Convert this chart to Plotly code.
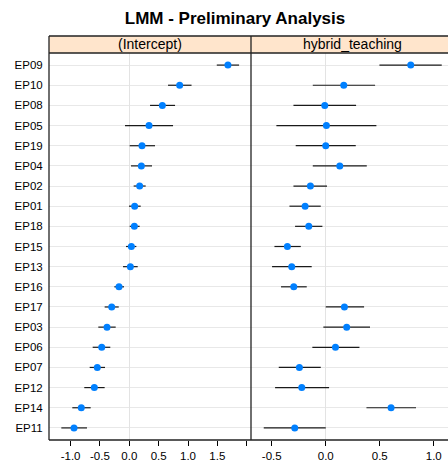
import plotly.graph_objects as go

# Data (top to bottom as shown)
groups = ["EP09", "EP10", "EP08", "EP05", "EP19", "EP04", "EP02", "EP01", "EP18", "EP15",
          "EP13", "EP16", "EP17", "EP03", "EP06", "EP07", "EP12", "EP14", "EP11"]

int_est = [1.68, 0.858, 0.563, 0.336, 0.216, 0.205, 0.176, 0.091, 0.086, 0.035,
           0.018, -0.175, -0.30, -0.38, -0.47, -0.545, -0.596, -0.818, -0.942]
int_lo = [1.49, 0.66, 0.353, -0.073, 0.006, 0.029, 0.074, -0.005, 0.006, -0.056,
          -0.107, -0.255, -0.42, -0.528, -0.624, -0.675, -0.767, -0.971, -1.158]
int_hi = [1.87, 1.06, 0.779, 0.745, 0.438, 0.387, 0.279, 0.194, 0.176, 0.12,
          0.143, -0.09, -0.18, -0.232, -0.324, -0.414, -0.42, -0.658, -0.721]

hyb_est = [0.787, 0.167, -0.009, 0.006, 0.0, 0.13, -0.142, -0.191, -0.157, -0.355,
           -0.315, -0.296, 0.173, 0.194, 0.09, -0.244, -0.222, 0.605, -0.287]
hyb_lo = [0.497, -0.12, -0.299, -0.457, -0.278, -0.12, -0.299, -0.336, -0.284, -0.475,
          -0.497, -0.414, 0.0, -0.022, -0.124, -0.435, -0.469, 0.377, -0.574]
hyb_hi = [1.074, 0.457, 0.281, 0.469, 0.278, 0.38, 0.012, -0.046, -0.031, -0.231,
          -0.13, -0.176, 0.355, 0.41, 0.312, -0.046, 0.031, 0.836, 0.0]

panels = ["(Intercept)", "hybrid_teaching"]
left_ticks = [-1.0, -0.5, 0.0, 0.5, 1.0, 1.5, 2.0]
left_ticktext = ["-1.0", "-0.5", "0.0", "0.5", "1.0", "1.5", ""]
right_ticks = [-0.5, 0.0, 0.5, 1.0]
right_ticktext = ["-0.5", "0.0", "0.5", "1.0"]

W, H = 448, 468
ML, MR, MT, MB = 49, 0, 53.3, 28
pw = W - ML - MR
ph = H - MT - MB
sep = (251 - ML) / pw

n = len(groups)
ypos = [n - i for i in range(n)]

fig = go.Figure()
FONT = "Liberation Sans, Arial, Helvetica, sans-serif"

def add_panel(est, lo, hi, xa, ya):
    fig.add_trace(go.Scatter(
        x=est, y=ypos, mode="markers",
        marker=dict(color="#0080ff", size=7, line=dict(width=0)),
        error_x=dict(type="data", symmetric=False,
                     array=[h - e for h, e in zip(hi, est)],
                     arrayminus=[e - l for e, l in zip(est, lo)],
                     color="#1a1a1a", thickness=1.2, width=0),
        xaxis=xa, yaxis=ya, showlegend=False, hoverinfo="skip"))

add_panel(int_est, int_lo, int_hi, "x", "y")
add_panel(hyb_est, hyb_lo, hyb_hi, "x2", "y2")

tickfont = dict(family=FONT, size=11.5, color="#000")
common_x = dict(showgrid=False, zeroline=True, zerolinecolor="#e3e3e3", zerolinewidth=1,
                ticks="outside", ticklen=5, tickcolor="#000", tickwidth=1,
                showline=False, tickfont=tickfont, anchor="free", position=0)
common_y = dict(range=[0.4, n + 0.6], showgrid=True, gridcolor="#e8e8e8", gridwidth=1,
                zeroline=False, showline=False)

fig.update_layout(
    width=W, height=H,
    margin=dict(l=ML, r=MR, t=MT, b=MB, pad=0),
    paper_bgcolor="white", plot_bgcolor="white",
    xaxis=dict(domain=[0, sep], range=[-1.368, 2.073], tickvals=left_ticks,
               ticktext=left_ticktext, **common_x),
    xaxis2=dict(domain=[sep, 1], range=[-0.692, 1.132], tickvals=right_ticks,
                ticktext=right_ticktext, **common_x),
    yaxis=dict(domain=[0, 1], anchor="x", tickvals=ypos, ticktext=groups,
               ticks="outside", ticklen=3, tickcolor="rgba(0,0,0,0)",
               tickfont=dict(family=FONT, size=11.5, color="#000"), **common_y),
    yaxis2=dict(domain=[0, 1], anchor="x2", tickvals=ypos, showticklabels=False, **common_y),
    title=dict(text="<b>LMM - Preliminary Analysis</b>", x=235 / W, xanchor="center",
               y=1 - 18 / H, yanchor="middle",
               font=dict(family=FONT, size=17, color="#000")),
    font=dict(family=FONT),
)

strip_top = 1 + (MT - 36.3) / ph
shapes = []
# strips
shapes.append(dict(type="rect", xref="paper", yref="paper", x0=0, x1=sep, y0=1, y1=strip_top,
                   fillcolor="#ffe5cc", line=dict(width=0), layer="below"))
shapes.append(dict(type="rect", xref="paper", yref="paper", x0=sep, x1=1.01, y0=1, y1=strip_top,
                   fillcolor="#ffe5cc", line=dict(width=0), layer="below"))
line = dict(color="#222", width=1.3)
for (x0, y0, x1, y1) in [(0, 0, 0, strip_top), (sep, 0, sep, strip_top),
                         (0, 0, 1.01, 0), (0, 1, 1.01, 1), (0, strip_top, 1.01, strip_top)]:
    shapes.append(dict(type="line", xref="paper", yref="paper", x0=x0, y0=y0, x1=x1, y1=y1,
                       line=line))
fig.update_layout(shapes=shapes)

ann_y = (1 + strip_top) / 2
fig.add_annotation(text=panels[0], xref="paper", yref="paper", x=(150 - ML) / pw, y=ann_y,
                   showarrow=False, xanchor="center", yanchor="middle",
                   font=dict(family=FONT, size=14, color="#000"))
fig.add_annotation(text=panels[1], xref="paper", yref="paper", x=(352.5 - ML) / pw, y=ann_y,
                   showarrow=False, xanchor="center", yanchor="middle",
                   font=dict(family=FONT, size=14, color="#000"))

fig.write_html("out.html")
